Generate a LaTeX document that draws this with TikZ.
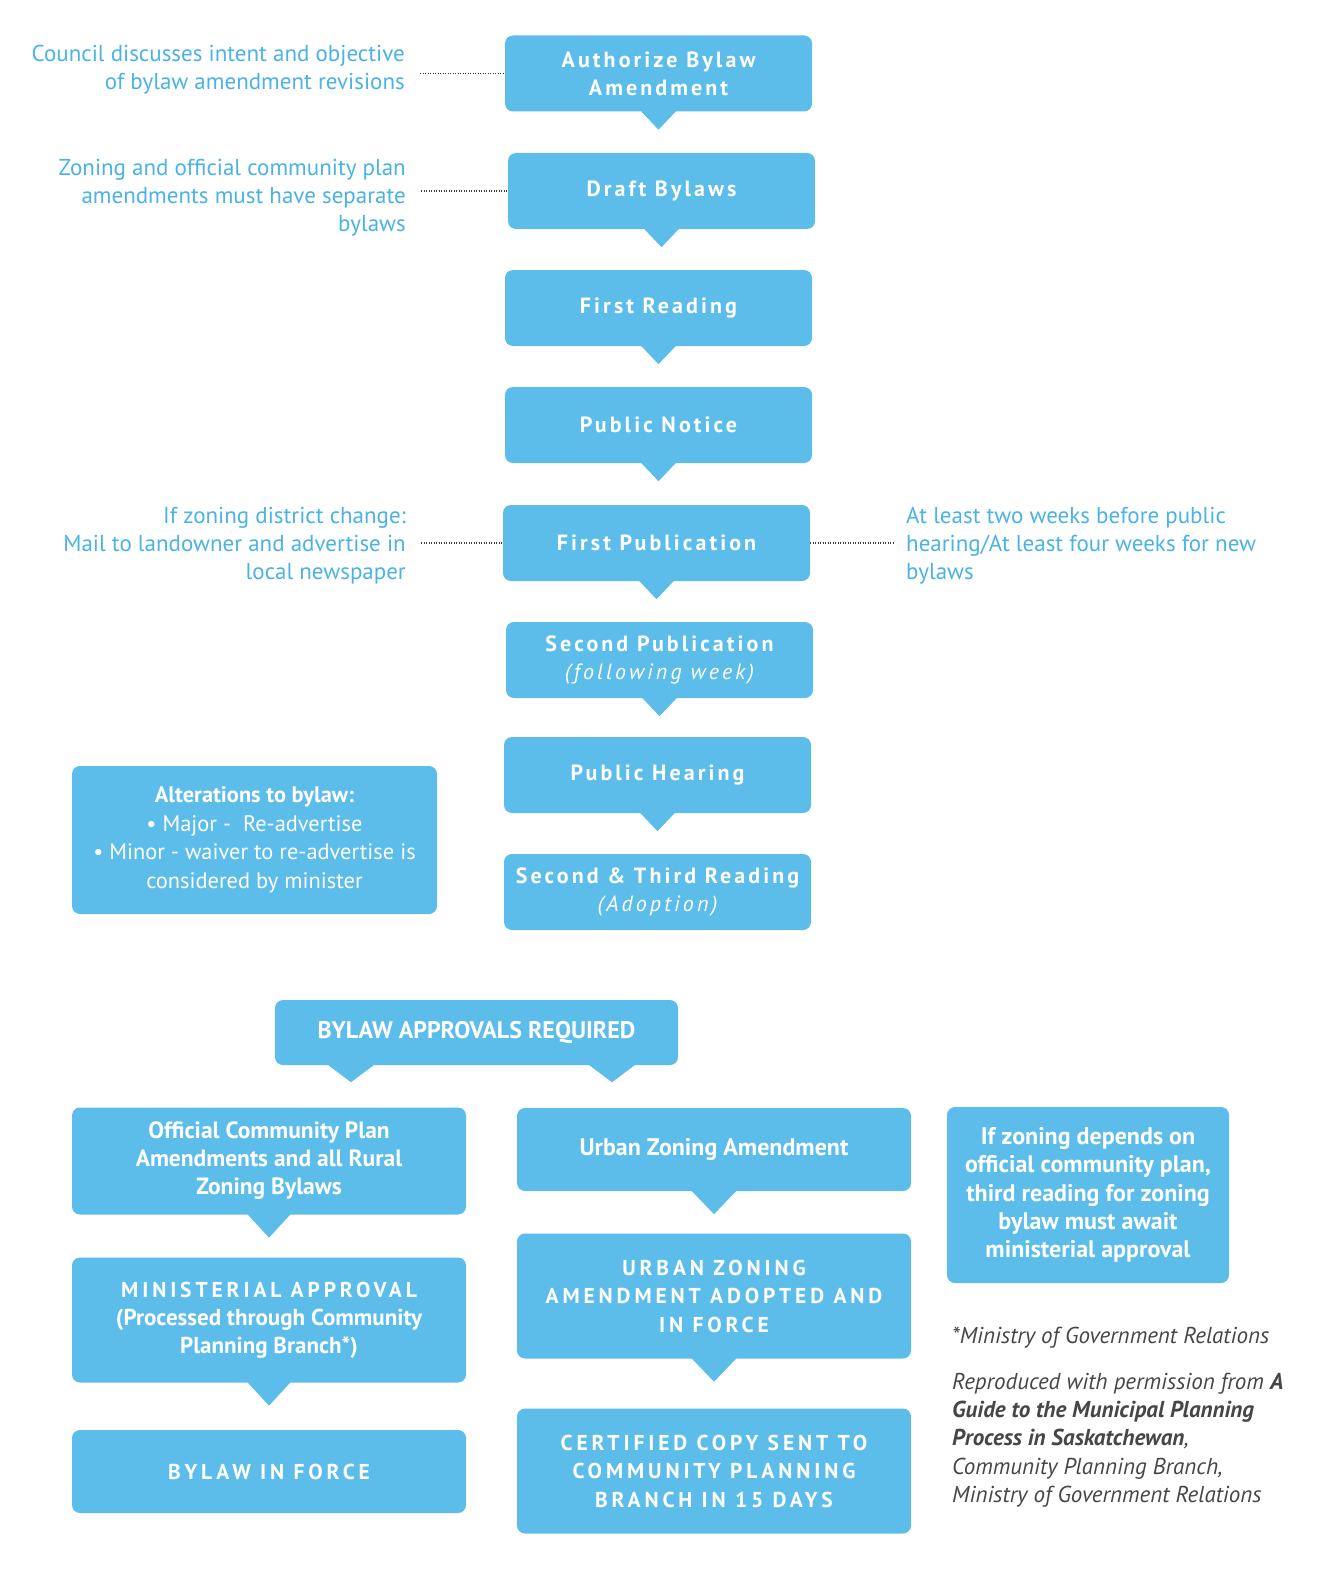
\documentclass[tikz,border=0pt]{standalone}
\usepackage{fontspec}
\setmainfont{PT Sans}
\newfontfamily\trk[LetterSpace=14]{PT Sans}
\newfontfamily\trkcap[LetterSpace=18]{PT Sans}
\newcommand\fs[2]{\fontsize{#1}{#2}\selectfont}
\definecolor{boxc}{RGB}{92,189,235}
\definecolor{sidec}{RGB}{75,178,230}
\definecolor{footc}{RGB}{70,70,70}
\definecolor{dotc}{RGB}{60,60,60}
\tikzset{
  box/.style={fill=boxc, rounded corners=8pt, text=white, inner sep=0pt, align=center},
  stepbox/.style={box, minimum width=307pt, minimum height=76pt, font=\fs{22}{28}\trk\bfseries},
  lowbox/.style={box, minimum width=394pt},
  side/.style={text=sidec, inner sep=0pt, font=\fs{23}{28}},
  dotline/.style={draw=dotc, line width=1.5pt, dash pattern=on 0.9pt off 1.6pt},
}
\newcommand\tail[3]{\fill[boxc] ([xshift=-#2,yshift=1pt]#1) -- ([xshift=#2,yshift=1pt]#1) -- ([yshift=-#3]#1) -- cycle;}
\begin{document}
\begin{tikzpicture}[x=1pt,y=-1pt]
\useasboundingbox (0,0) rectangle (1330,1570);
% main column
\node[stepbox] (b1) at (658.5,73.5) {Authorize Bylaw\\Amendment};
\node[stepbox] (b2) at (661.5,191) {Draft Bylaws};
\node[stepbox] (b3) at (658.5,308) {First Reading};
\node[stepbox] (b4) at (658.5,425) {Public Notice};
\node[stepbox] (b5) at (656.5,543) {First Publication};
\node[stepbox] (b6) at (659.5,660) {Second Publication\\{\mdseries\itshape (following week)}};
\node[stepbox] (b7) at (657.5,775) {Public Hearing};
\node[stepbox] (b8) at (657.5,892) {Second \& Third Reading\\{\mdseries\itshape (Adoption)}};
\tail{b1.south}{18pt}{18pt}
\tail{b2.south}{18pt}{18pt}
\tail{b3.south}{18pt}{18pt}
\tail{b4.south}{18pt}{18pt}
\tail{b5.south}{18pt}{18pt}
\tail{b6.south}{18pt}{18pt}
\tail{b7.south}{18pt}{18pt}
% side notes
\node[side, anchor=east, align=right] (t1) at (405,70) {Council discusses intent and objective\\of bylaw amendment revisions};
\node[side, anchor=east, align=right] (t2) at (406,198) {Zoning and official community plan\\amendments must have separate\\bylaws};
\node[side, anchor=east, align=right] (t3) at (406,546) {If zoning district change:\\Mail to landowner and advertise in\\local newspaper};
\node[side, anchor=west, align=left] (t4) at (906,546) {At least two weeks before public\\hearing/At least four weeks for new\\bylaws};
\draw[dotline, shorten <=15pt] (t1.east |- b1.west) -- (b1.west);
\draw[dotline, shorten <=15pt] (t2.east |- b2.west) -- (b2.west);
\draw[dotline, shorten <=15pt] (t3.east |- b5.west) -- (b5.west);
\draw[dotline, shorten >=11pt] (b5.east) -- (t4.west |- b5.east);
% alterations
\node[box, minimum width=365pt, minimum height=148pt, font=\fs{22.4}{28.5}] (alt) at (254.5,840) {{\bfseries Alterations to bylaw:}\\\textbullet\ Major -\ \ Re-advertise\\\textbullet\ Minor - waiver to re-advertise is\\considered by minister};
% approvals
\node[box, minimum width=403pt, minimum height=65pt, font=\fs{24}{28}\bfseries] (ba) at (476.5,1032.5) {BYLAW APPROVALS REQUIRED};
\coordinate (baL) at ([xshift=-125.5pt]ba.south);
\coordinate (baR) at ([xshift=135.5pt]ba.south);
\tail{baL}{24pt}{17pt}
\tail{baR}{24pt}{17pt}
% left column
\node[lowbox, minimum height=107pt, font=\fs{23.5}{28}\bfseries] (ocp) at (269,1161) {Official Community Plan\\Amendments and all Rural\\Zoning Bylaws};
\node[lowbox, minimum height=125pt, font=\fs{23}{28}\bfseries] (min) at (269,1320) {{\fs{21.5}{28}\trkcap MINISTERIAL APPROVAL}\\(Processed through Community\\Planning Branch*)};
\node[lowbox, minimum height=83pt, font=\fs{21.5}{28}\trkcap\bfseries] (bif) at (269,1471.5) {BYLAW IN FORCE};
\tail{ocp.south}{22pt}{23pt}
\tail{min.south}{22pt}{23pt}
% middle column
\node[lowbox, minimum height=83pt, font=\fs{24}{28}\bfseries] (uza) at (714,1149.5) {Urban Zoning Amendment};
\node[lowbox, minimum height=125pt, font=\fs{21.5}{28.5}\trkcap\bfseries] (uzf) at (714,1296) {URBAN ZONING\\AMENDMENT ADOPTED AND\\IN FORCE};
\node[lowbox, minimum height=125pt, font=\fs{21.5}{28.5}\trkcap\bfseries] (cert) at (714,1471) {CERTIFIED COPY SENT TO\\COMMUNITY PLANNING\\BRANCH IN 15 DAYS};
\tail{uza.south}{23pt}{23pt}
\tail{uzf.south}{23pt}{23pt}
% right box
\node[box, minimum width=282pt, minimum height=176pt, font=\fs{24}{28.3}\bfseries] (dep) at (1088,1195) {If zoning depends on\\official community plan,\\third reading for zoning\\bylaw must await\\ministerial approval};
% footer
\node[anchor=west, inner sep=0pt, text=footc, font=\fs{23}{28}\itshape] (f1) at (952,1338) {*Ministry of Government Relations};
\node[anchor=west, inner sep=0pt, text=footc, align=left, font=\fs{23}{28.3}\itshape] (f2) at (952,1440) {Reproduced with permission from \textbf{A}\\\textbf{Guide to the Municipal Planning}\\\textbf{Process in Saskatchewan},\\Community Planning Branch,\\Ministry of Government Relations};
\end{tikzpicture}
\end{document}
